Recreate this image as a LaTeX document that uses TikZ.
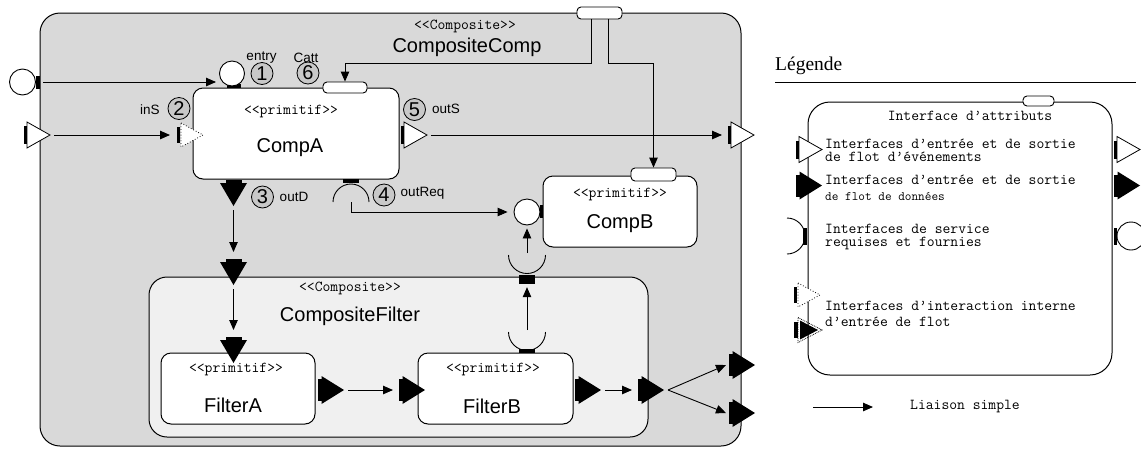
\documentclass[tikz,border=0pt]{standalone}
\usepackage{fontspec}
\setmainfont{Liberation Sans}
\newfontfamily\serf{Liberation Serif}
\usetikzlibrary{arrows.meta}
\definecolor{outerfill}{RGB}{217,217,217}
\definecolor{cffill}{RGB}{240,240,240}
\definecolor{numfill}{RGB}{200,200,200}
\tikzset{
  box/.style={draw, line width=1pt, fill=white, rounded corners=10pt, inner sep=0pt, outer sep=0pt},
  arr/.style={-{Triangle[length=10pt,width=8.5pt]}, line width=0.9pt},
  stereo/.style={font=\ttfamily\fontsize{15.2pt}{15pt}\selectfont, inner sep=0pt},
  cname/.style={font=\fontsize{20pt}{22pt}\selectfont, inner sep=0pt},
  lbl/.style={font=\fontsize{13.5pt}{15pt}\selectfont, inner sep=0pt},
  num/.style={circle, draw, line width=0.8pt, fill=numfill, minimum size=22pt, inner sep=0pt, font=\fontsize{20pt}{20pt}\selectfont},
  leg/.style={font=\ttfamily\fontsize{15.2pt}{13.2pt}\selectfont, inner sep=0pt, anchor=west, align=left},
  legs/.style={font=\ttfamily\fontsize{12.9pt}{13pt}\selectfont, inner sep=0pt, anchor=west},
  attport/.style={draw, fill=white, rounded corners=4pt, inner sep=0pt, line width=0.9pt},
  ball/.style={circle, draw, fill=white, inner sep=0pt, line width=0.9pt},
  evR/.pic={
    \fill (0,-9) rectangle (3,9);
    \draw[fill=white, line width=0.8pt, line join=miter] (3,-13) -- (26,0) -- (3,13) -- cycle;
    \coordinate (-in) at (-6,0);
    \coordinate (-out) at (30,0);
  },
  datR/.pic={
    \fill (0,-11) rectangle (4,11);
    \fill (3.5,-14) -- (26,0) -- (3.5,14) -- cycle;
    \coordinate (-in) at (-6,0);
    \coordinate (-out) at (30,0);
  },
  datD/.pic={
    \fill (-8,0) rectangle (8,3.5);
    \fill (-13.5,3) -- (13.5,3) -- (0,26) -- cycle;
    \coordinate (-in) at (0,-7);
    \coordinate (-out) at (0,30);
  },
  evI/.pic={
    \fill (0,-8) rectangle (3,8);
    \draw[dotted, fill=white, line width=0.8pt] (4,-12) -- (26,0) -- (4,12) -- cycle;
    \coordinate (-in) at (-7,0);
  },
  datI/.pic={
    \fill (0,-8) rectangle (4,8);
    \draw[densely dotted, line width=0.8pt] (4,-12.5) -- (28,0) -- (4,12.5) -- cycle;
    \fill (6,-9.5) -- (24,0) -- (6,9.5) -- cycle;
  }
}
\begin{document}
\begin{tikzpicture}[x=1pt,y=-1pt]
\useasboundingbox (0,0) rectangle (1141,448);
\fill[white] (0,0) rectangle (1141,448);

% ---------- outer composite ----------
\node[box, fill=outerfill, rounded corners=20pt, minimum width=701pt, minimum height=433pt] (outer) at (390.5,229.5) {};
\node[attport] (oAtt) at (599.5,13) [minimum width=45pt, minimum height=12pt] {};
\node[stereo] (outerSt) at (465,26) {<<Composite>>};
\node[cname] (outerName) at (467,47) {CompositeComp};

% ---------- composite filter ----------
\node[box, fill=cffill, rounded corners=18pt, minimum width=499pt, minimum height=160pt] (cf) at (398.5,357) {};
\node[stereo] (cfSt) at (350,288) {<<Composite>>};
\node[cname] (cfName) at (350,316) {CompositeFilter};

% ---------- primitive components ----------
\node[box, minimum width=206pt, minimum height=91pt] (compA) at (296,133.5) {};
\node[stereo] (compASt) at (291,111) {<<primitif>>};
\node[cname] (compAName) at (290,148) {CompA};

\node[box, minimum width=154pt, minimum height=71pt] (compB) at (620,211.5) {};
\node[stereo] (compBSt) at (620,194) {<<primitif>>};
\node[cname] (compBName) at (620,224) {CompB};

\node[box, minimum width=154pt, minimum height=71pt] (filterA) at (238,388.5) {};
\node[stereo] (filterASt) at (236,369) {<<primitif>>};
\node[cname] (filterAName) at (233,405) {FilterA};

\node[box, minimum width=155pt, minimum height=71pt] (filterB) at (495.5,388.5) {};
\node[stereo] (filterBSt) at (493,369) {<<primitif>>};
\node[cname] (filterBName) at (492,406) {FilterB};

% ---------- attribute ports ----------
\node[attport] (aAtt) at (345,87.5) [minimum width=44pt, minimum height=11pt] {};
\node[attport] (bAtt) at (653.5,174.5) [minimum width=45pt, minimum height=13pt] {};

% ---------- service ports ----------
\fill (36,76) rectangle (40,89);
\node[ball, minimum size=26pt] (oEntry) at (22.5,82) {};
\coordinate (oEntryOut) at (43,82);
\fill (227,84) rectangle (241,88);
\node[ball, minimum size=25pt] (entry) at (232,73.5) {};
\coordinate (entryIn) at (216,82);

\fill (540,205) rectangle (543,218);
\node[ball, minimum size=26pt] (bIn) at (527,212) {};

\fill (343,179) rectangle (359,183);
\draw[line width=0.9pt] (333,202) arc[start angle=180, end angle=360, radius=18];
\coordinate (rqC) at (351,202);

\fill (519,349) rectangle (535,353);
\draw[line width=0.9pt] (508.5,332) arc[start angle=180, end angle=0, radius=18.5];
\coordinate (fbSc) at (527,330);

\node[fill=black, inner sep=0pt, minimum width=16pt, minimum height=9pt] (cfSq) at (527,279.5) {};
\draw[line width=0.9pt] (508.5,255) arc[start angle=180, end angle=0, radius=18.5];
\coordinate (cfSc) at (527,253);

% ---------- event / data ports ----------
\pic (lin) at (24,135) {evR};
\pic (inS) at (177,135) {evI};
\pic (outS) at (401,135) {evR};
\pic (oEvOut) at (728,135) {evR};

\pic (outD) at (233.5,180) {datD};
\pic (cfIn) at (233.5,259) {datD};
\pic (faIn) at (233.5,337) {datD};

\pic (faO) at (318,390) {datR};
\pic (fbI) at (399,390) {datR};
\pic (fbO) at (575,390) {datR};
\pic (cfO) at (638,390) {datR};
\pic (oD1) at (729,365) {datR};
\pic (oD2) at (729,413) {datR};

% ---------- numbers and labels ----------
\node[num] (n1) at (262,73.5) {1};
\node[num] (n2) at (179,108.5) {2};
\node[num] (n3) at (262.5,197) {3};
\node[num] (n4) at (384,195) {4};
\node[num] (n5) at (414.5,109.5) {5};
\node[num] (n6) at (308,73) {6};
\node[lbl] (lEntry) at (261.5,57.5) {entry};
\node[lbl] (lCatt) at (306,57.5) {Catt};
\node[lbl] (lInS) at (150,110) {inS};
\node[lbl] (lOutD) at (294,197) {outD};
\node[lbl] (lOutS) at (446,109) {outS};
\node[lbl] (lOutReq) at (422.5,193) {outReq};

% ---------- connectors ----------
\draw[arr] (oEntryOut) -- (entryIn);
\draw[arr] (lin-out) -- (inS-in);
\draw[arr] (outS-out) -- (oEvOut-in);
\draw[arr] ([xshift=-8.5pt]oAtt.south) -- ++(0,44) -| (aAtt.north);
\draw[arr] ([xshift=8.5pt]oAtt.south) -- ++(0,44) -| (bAtt.north);
\draw[arr] (outD-out) -- (cfIn-in);
\draw[arr] (cfIn-out) -- (faIn-in);
\draw[arr] (faO-out) -- (fbI-in);
\draw[arr] (fbO-out) -- (cfO-in);
\draw[arr] (cfO-out) -- ([xshift=3pt]oD1-in);
\draw[arr] (cfO-out) -- ([xshift=3pt]oD2-in);
\draw[arr] (rqC) |- ([xshift=-6pt]bIn.west);
\draw[arr] (fbSc) -- ([yshift=-3pt]cfSq.south);
\draw[arr] (cfSc) -- ([yshift=-3pt]bIn.south);

% ---------- legend ----------
\node[font=\serf\fontsize{19.5pt}{21pt}\selectfont, inner sep=0pt, anchor=west] (legTitle) at (775,66) {Légende};
\coordinate (legL) at (775,82);
\coordinate (legR) at (1136,82);
\draw[line width=1pt] (legL) -- (legR);

\node[box, rounded corners=22pt, minimum width=304pt, minimum height=273pt] (lgbox) at (960,238.5) {};
\node[attport] (lgAtt) at (1038.5,101) [minimum width=31pt, minimum height=10pt] {};
\node[stereo] (lgAttTxt) at (970,116) {Interface d’attributs};

\pic (lgEvL) at (796,149.5) {evR};
\pic (lgEvR) at (1114,149.5) {evR};
\node[leg] (lgT1) at (825,150) {Interfaces d’entrée et de sortie\\de flot d’événements};

\pic (lgDaL) at (796,185.5) {datR};
\pic (lgDaR) at (1114,185.5) {datR};
\node[leg] (lgT2a) at (825,180) {Interfaces d’entrée et de sortie};
\node[legs] (lgT2b) at (825,196.5) {de flot de données};

\draw[line width=0.9pt] (787,218) arc[start angle=-90, end angle=90, radius=18];
\fill (803,228) rectangle (807,245);
\fill (1114,228) rectangle (1117,245);
\node[ball, minimum size=28pt] (lgBall) at (1131,236) {};
\node[leg] (lgT3) at (825,237) {Interfaces de service\\requises et fournies};

\pic (lgInt1) at (794,295) {evI};
\pic (lgInt2) at (794,330) {datI};
\node[leg] (lgT4a) at (825,306) {Interfaces d’interaction interne};
\node[leg] (lgT4b) at (825,322) {d’entrée de flot};

\coordinate (lgA1) at (813,407);
\coordinate (lgA2) at (873,407);
\draw[arr] (lgA1) -- (lgA2);
\node[leg] (lgT5) at (910,407) {Liaison simple};
\end{tikzpicture}
\end{document}
